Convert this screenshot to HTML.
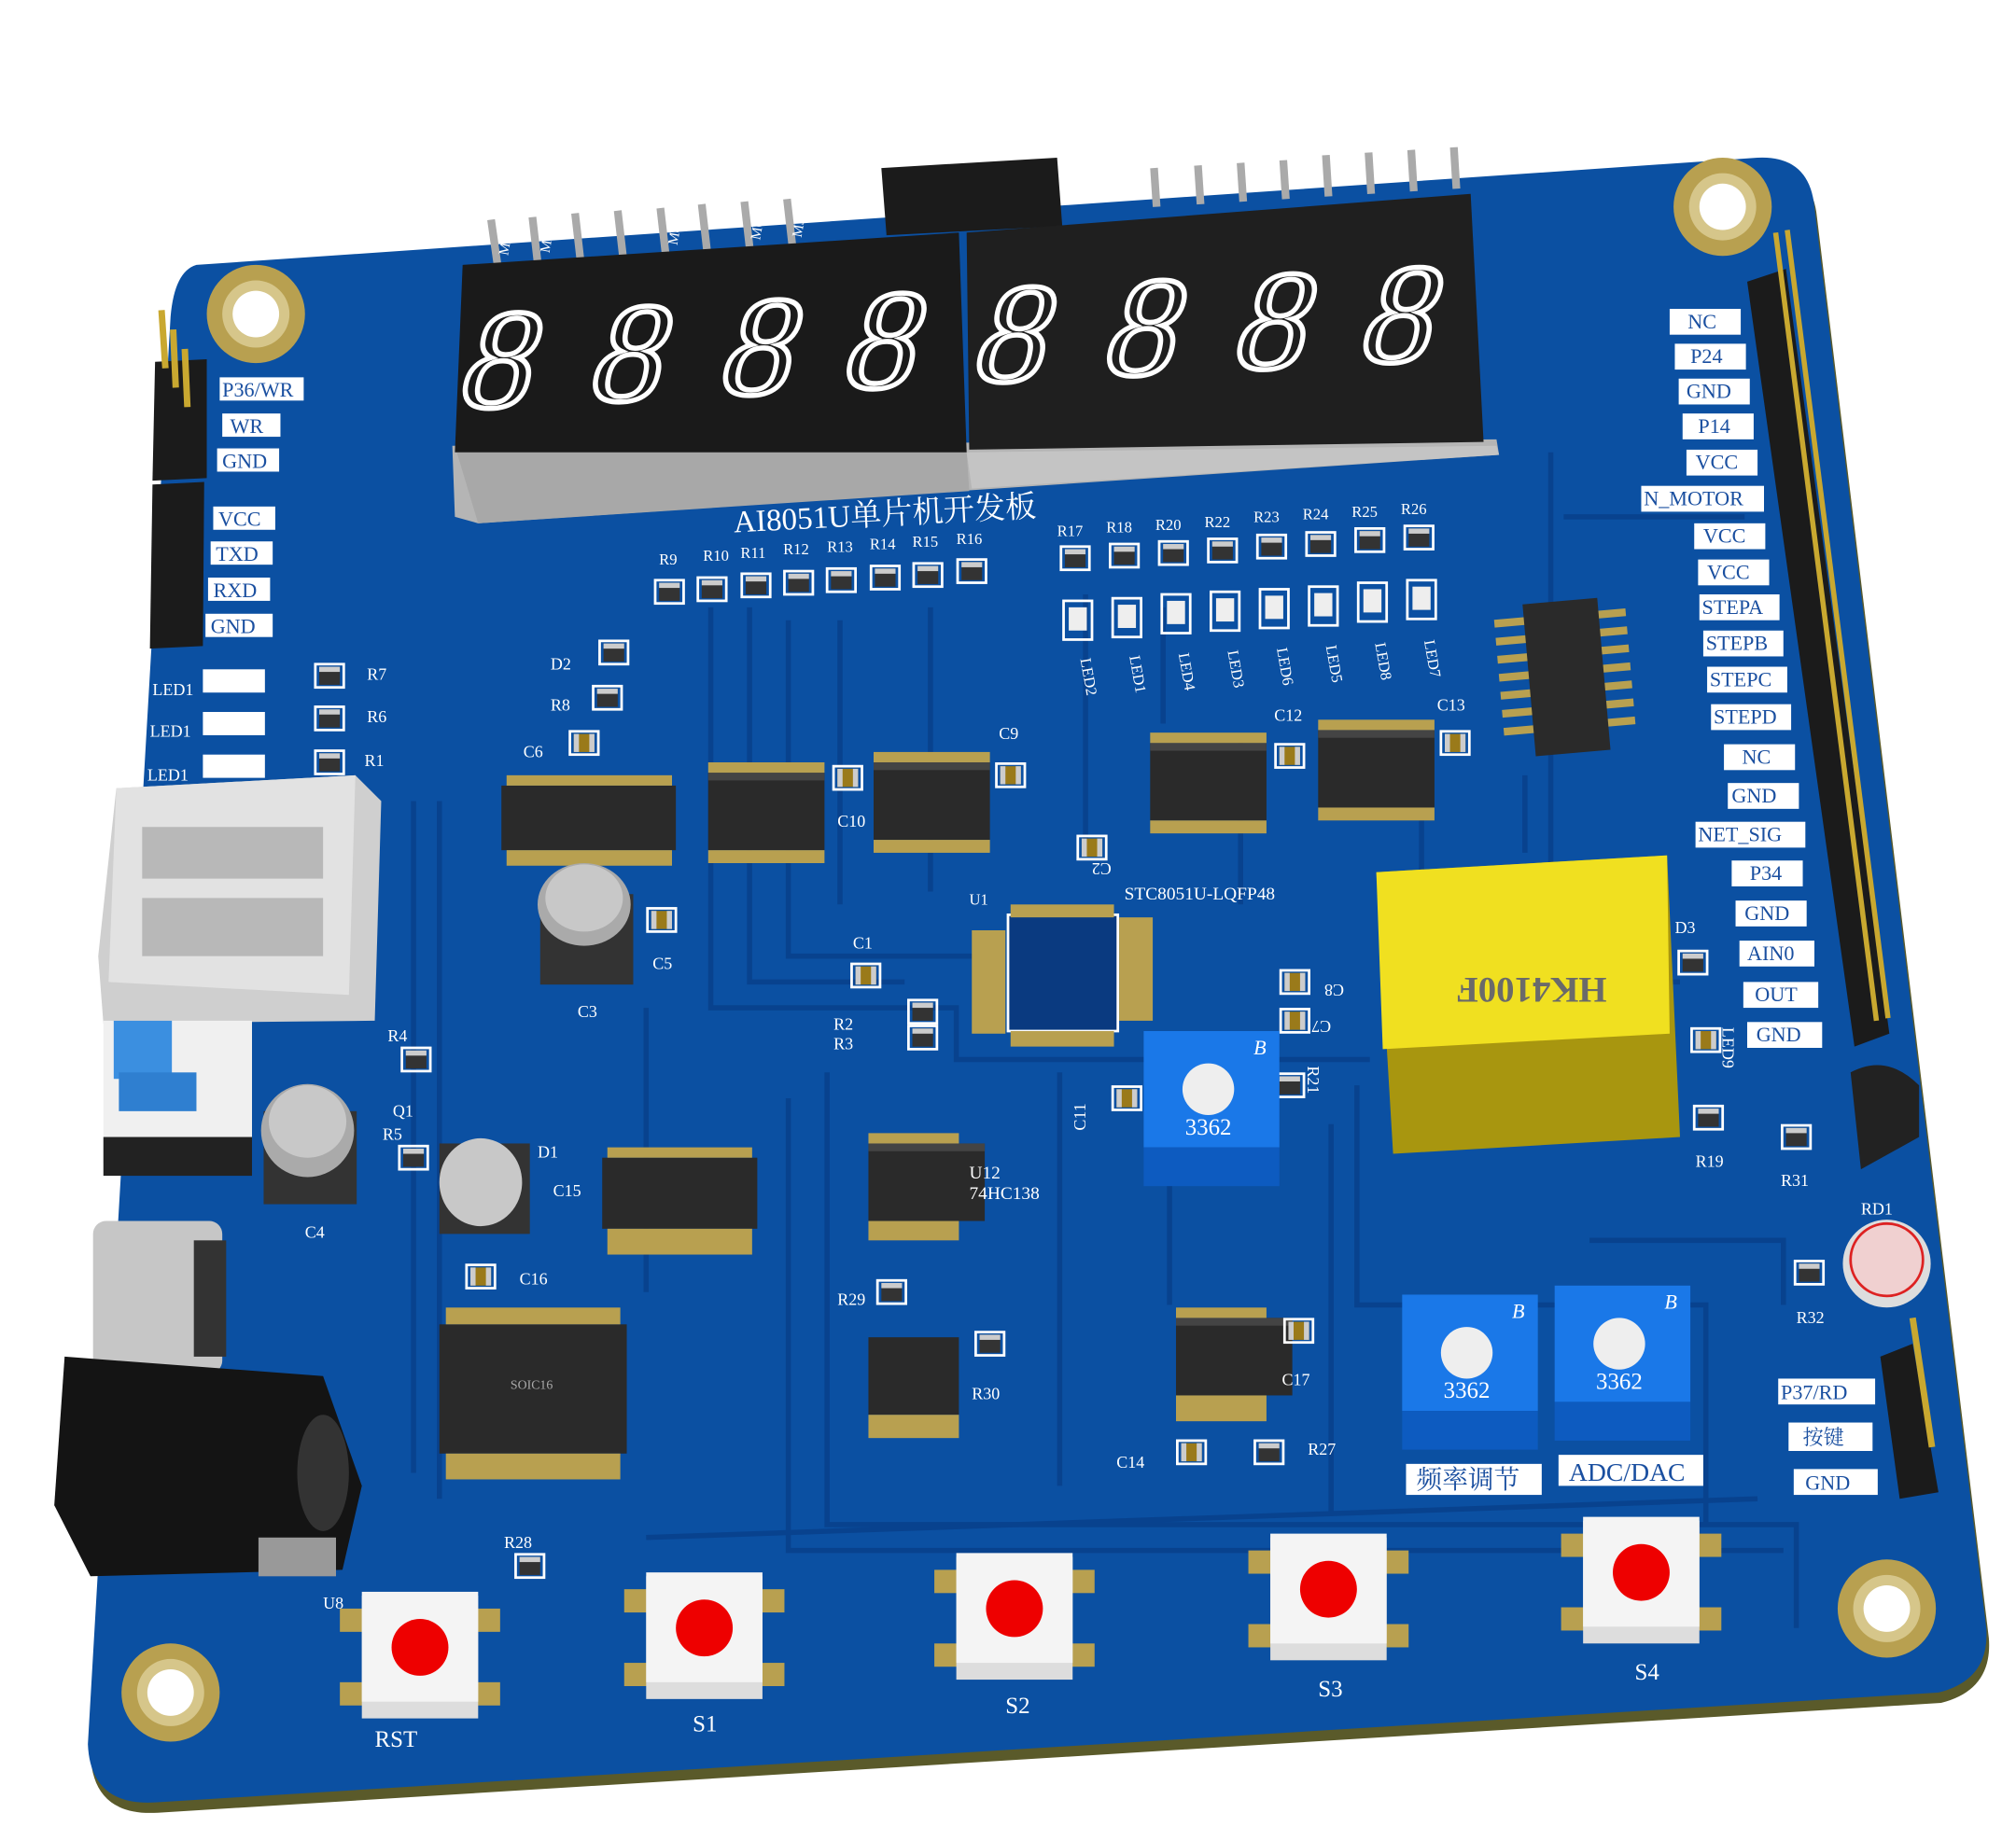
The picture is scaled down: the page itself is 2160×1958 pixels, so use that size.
<!DOCTYPE html>
<html><head><meta charset="utf-8"><style>
html,body{margin:0;padding:0;background:#fff;width:2160px;height:1958px;overflow:hidden}
svg{display:block}
text{font-family:"Liberation Serif","Noto Serif CJK SC",serif}
.lt{fill:#1a4fa0;font-size:16px}
</style></head><body>
<svg width="2160" height="1958" viewBox="0 0 1560 1414" xmlns="http://www.w3.org/2000/svg">
<defs>
<g id="res"><rect x="-11" y="-9" width="22" height="18" fill="none" stroke="#fff" stroke-width="2"/><rect x="-8" y="-7" width="16" height="14" fill="#333"/><rect x="-8" y="-7" width="16" height="4" fill="#ccc"/></g>
<g id="cap"><rect x="-11" y="-9" width="22" height="18" fill="none" stroke="#fff" stroke-width="2"/><rect x="-8" y="-7" width="16" height="14" fill="#9a7a1a"/><rect x="-8" y="-7" width="4" height="14" fill="#ccc"/><rect x="4" y="-7" width="4" height="14" fill="#ccc"/></g>
<g id="btn"><rect x="-62" y="-35" width="28" height="18" fill="#b8a050"/><rect x="34" y="-35" width="28" height="18" fill="#b8a050"/><rect x="-62" y="22" width="28" height="18" fill="#b8a050"/><rect x="34" y="22" width="28" height="18" fill="#b8a050"/><rect x="-45" y="-45" width="90" height="95" fill="#ddd"/><rect x="-45" y="-48" width="90" height="85" fill="#f4f4f4"/><circle cx="0" cy="-5" r="22" fill="#e00"/></g>
<g id="hole"><circle r="38" fill="#b8a050"/><circle r="26" fill="#d6c68a"/><circle r="18" fill="#fff"/></g>
<g id="chip"><rect x="0" y="0" width="90" height="60" fill="#2a2a2a"/><rect x="0" y="0" width="90" height="6" fill="#444"/></g>
<g id="pot"><rect x="0" y="0" width="105" height="90" fill="#1a78e8"/><rect x="0" y="90" width="105" height="30" fill="#0d5bc0"/><circle cx="50" cy="45" r="20" fill="#eee"/><text x="50" y="80" font-size="18" fill="#fff" text-anchor="middle" font-family="Liberation Sans,sans-serif">3362</text><text x="85" y="18" font-size="16" fill="#fff" font-style="italic" font-family="Liberation Sans,sans-serif">B</text></g>
</defs>
<rect width="1560" height="1414" fill="#fff"/>
<path d="M152,205 L1360,122 Q1400,120 1404,160 L1537,1260 Q1540,1300 1500,1310 L120,1395 Q70,1398 68,1350 L132,245 Q135,210 152,205Z" fill="#5a5a2a" transform="translate(2,8)"/>
<path d="M152,205 L1360,122 Q1400,120 1404,160 L1537,1260 Q1540,1300 1500,1310 L120,1395 Q70,1398 68,1350 L132,245 Q135,210 152,205Z" fill="#0b50a2"/>
<g stroke="#08428e" stroke-width="4" fill="none">
<path d="M550,470 L550,780 L740,780 L740,820 L1060,820"/><path d="M580,470 L580,760 L700,760"/><path d="M610,480 L610,740 L760,740"/><path d="M650,480 L650,700"/><path d="M720,470 L720,690"/><path d="M840,460 L840,650"/><path d="M900,470 L900,560"/><path d="M1200,350 L1200,760 L1300,760"/><path d="M1210,400 L1350,400"/><path d="M640,830 L640,1180 L1390,1180 L1390,1260"/><path d="M610,850 L610,1200 L1380,1200"/><path d="M500,780 L500,1000"/><path d="M320,620 L320,1140"/><path d="M340,620 L340,1160"/><path d="M820,830 L820,1150"/><path d="M905,900 L905,1010"/><path d="M1050,840 L1050,1010 L1320,1010 L1320,1180"/><path d="M1030,870 L1030,1170"/><path d="M500,1190 L1360,1160"/><path d="M1100,600 L1100,740"/><path d="M1180,600 L1180,660"/><path d="M1230,960 L1380,960 L1380,1010"/><path d="M960,570 L960,700"/></g>
<use href="#hole" x="198" y="243"/><use href="#hole" x="1333" y="160"/><use href="#hole" x="132" y="1310"/><use href="#hole" x="1460" y="1245"/>
<g stroke="#aaa" stroke-width="6"><line x1="380" y1="170" x2="385" y2="205"/><line x1="412" y1="168" x2="416" y2="203"/><line x1="445" y1="165" x2="449" y2="200"/><line x1="478" y1="163" x2="482" y2="198"/><line x1="511" y1="161" x2="515" y2="196"/><line x1="543" y1="158" x2="547" y2="193"/><line x1="576" y1="156" x2="580" y2="191"/><line x1="609" y1="154" x2="613" y2="189"/>
<line x1="893" y1="130" x2="895" y2="160"/><line x1="927" y1="128" x2="929" y2="158"/><line x1="960" y1="126" x2="962" y2="156"/><line x1="993" y1="124" x2="995" y2="154"/><line x1="1026" y1="120" x2="1028" y2="152"/><line x1="1059" y1="118" x2="1061" y2="150"/><line x1="1092" y1="116" x2="1094" y2="148"/><line x1="1125" y1="114" x2="1127" y2="146"/></g>
<g font-size="11" fill="#fff"><text x="393" y="198" transform="rotate(-80 393 198)">M5</text><text x="425" y="196" transform="rotate(-80 425 196)">M7</text><text x="524" y="190" transform="rotate(-80 524 190)">M8</text><text x="588" y="186" transform="rotate(-80 588 186)">M6</text><text x="620" y="184" transform="rotate(-80 620 184)">M3</text></g>
<polygon points="682,130 818,122 822,175 686,182" fill="#1b1b1b"/>
<polygon points="350,345 1158,340 1160,352 370,405 352,400" fill="#b5b5b5"/>
<polygon points="352,345 748,350 750,380 370,405" fill="#a8a8a8"/>
<polygon points="748,350 1158,345 1160,352 752,378" fill="#c4c4c4"/>
<polygon points="358,205 742,180 748,350 352,350" fill="#1a1a1a"/>
<polygon points="748,180 1138,150 1148,342 750,348" fill="#1f1f1f"/>
<g fill="none" stroke="#fff" stroke-width="4" font-family="Liberation Sans,sans-serif" font-size="110" font-style="italic">
<text x="360" y="315" transform="skewX(-8) translate(40,0)">8</text><text x="460" y="310" transform="skewX(-8) translate(40,0)">8</text><text x="560" y="305" transform="skewX(-8) translate(40,0)">8</text><text x="655" y="300" transform="skewX(-8) translate(40,0)">8</text><text x="755" y="295" transform="skewX(-8) translate(40,0)">8</text><text x="855" y="290" transform="skewX(-8) translate(40,0)">8</text><text x="955" y="285" transform="skewX(-8) translate(40,0)">8</text><text x="1052" y="280" transform="skewX(-8) translate(40,0)">8</text></g>
<text x="568" y="412" font-size="24" fill="#fff" transform="rotate(-3 568 412)">AI8051U单片机开发板</text>
<g font-size="12" fill="#fff"><text x="510" y="437">R9</text><text x="544" y="434">R10</text><text x="573" y="432">R11</text><text x="606" y="429">R12</text><text x="640" y="427">R13</text><text x="673" y="425">R14</text><text x="706" y="423">R15</text><text x="740" y="421">R16</text>
<text x="818" y="415">R17</text><text x="856" y="412">R18</text><text x="894" y="410">R20</text><text x="932" y="408">R22</text><text x="970" y="404">R23</text><text x="1008" y="402">R24</text><text x="1046" y="400">R25</text><text x="1084" y="398">R26</text></g>
<use href="#res" x="518" y="458"/><use href="#res" x="551" y="456"/><use href="#res" x="585" y="453"/><use href="#res" x="618" y="451"/><use href="#res" x="651" y="449"/><use href="#res" x="685" y="447"/><use href="#res" x="718" y="445"/><use href="#res" x="752" y="442"/>
<use href="#res" x="832" y="432"/><use href="#res" x="870" y="430"/><use href="#res" x="908" y="428"/><use href="#res" x="946" y="426"/><use href="#res" x="984" y="423"/><use href="#res" x="1022" y="421"/><use href="#res" x="1060" y="418"/><use href="#res" x="1098" y="416"/>
<g fill="none" stroke="#fff" stroke-width="2"><rect x="823" y="465" width="22" height="30"/><rect x="861" y="463" width="22" height="30"/><rect x="899" y="460" width="22" height="30"/><rect x="937" y="458" width="22" height="30"/><rect x="975" y="456" width="22" height="30"/><rect x="1013" y="454" width="22" height="30"/><rect x="1051" y="451" width="22" height="30"/><rect x="1089" y="449" width="22" height="30"/></g>
<g fill="#eee"><rect x="827" y="470" width="14" height="18"/><rect x="865" y="468" width="14" height="18"/><rect x="903" y="465" width="14" height="18"/><rect x="941" y="463" width="14" height="18"/><rect x="979" y="461" width="14" height="18"/><rect x="1017" y="459" width="14" height="18"/><rect x="1055" y="456" width="14" height="18"/><rect x="1093" y="454" width="14" height="18"/></g>
<g font-size="12" fill="#fff"><text x="836" y="510" transform="rotate(80 836 510)">LED2</text><text x="874" y="508" transform="rotate(80 874 508)">LED1</text><text x="912" y="506" transform="rotate(80 912 506)">LED4</text><text x="950" y="504" transform="rotate(80 950 504)">LED3</text><text x="988" y="502" transform="rotate(80 988 502)">LED6</text><text x="1026" y="500" transform="rotate(80 1026 500)">LED5</text><text x="1064" y="498" transform="rotate(80 1064 498)">LED8</text><text x="1102" y="496" transform="rotate(80 1102 496)">LED7</text></g>
<use href="#chip" x="548" y="598"/><use href="#chip" x="676" y="590"/><use href="#chip" x="890" y="575"/><use href="#chip" x="1020" y="565"/><use href="#chip" x="672" y="885"/><use href="#chip" x="910" y="1020"/>
<rect x="388" y="608" width="135" height="50" fill="#2a2a2a"/>
<rect x="466" y="896" width="120" height="55" fill="#2a2a2a"/>
<rect x="340" y="1025" width="145" height="100" fill="#2a2a2a"/><text x="395" y="1075" font-size="10" fill="#aaa">SOIC16</text>
<rect x="672" y="1035" width="70" height="60" fill="#2a2a2a"/>
<g fill="#b8a050"><rect x="548" y="590" width="90" height="8"/><rect x="548" y="658" width="90" height="10"/><rect x="676" y="582" width="90" height="8"/><rect x="676" y="650" width="90" height="10"/><rect x="890" y="567" width="90" height="8"/><rect x="890" y="635" width="90" height="10"/><rect x="1020" y="557" width="90" height="8"/><rect x="1020" y="625" width="90" height="10"/><rect x="392" y="600" width="128" height="8"/><rect x="392" y="658" width="128" height="12"/><rect x="470" y="888" width="112" height="8"/><rect x="470" y="951" width="112" height="20"/><rect x="672" y="877" width="70" height="8"/><rect x="672" y="945" width="70" height="15"/><rect x="345" y="1012" width="135" height="13"/><rect x="345" y="1125" width="135" height="20"/><rect x="910" y="1012" width="70" height="8"/><rect x="910" y="1080" width="70" height="20"/><rect x="672" y="1095" width="70" height="18"/></g>
<rect x="780" y="708" width="85" height="90" fill="#0a3a80" stroke="#fff" stroke-width="2"/>
<g fill="#b8a050"><rect x="782" y="700" width="80" height="10"/><rect x="782" y="798" width="80" height="12"/><rect x="752" y="720" width="26" height="80"/><rect x="866" y="710" width="26" height="80"/></g>
<text x="870" y="696" font-size="14" fill="#fff">STC8051U-LQFP48</text><text x="750" y="700" font-size="12" fill="#fff">U1</text>
<text x="750" y="912" font-size="14" fill="#fff">U12</text><text x="750" y="928" font-size="14" fill="#fff">74HC138</text>
<g transform="rotate(-5 1212 522)"><rect x="1158" y="470" width="108" height="104" fill="none"/>
<g stroke="#b8a050" stroke-width="6"><line x1="1160" y1="478" x2="1262" y2="478"/><line x1="1160" y1="492" x2="1262" y2="492"/><line x1="1160" y1="506" x2="1262" y2="506"/><line x1="1160" y1="520" x2="1262" y2="520"/><line x1="1160" y1="534" x2="1262" y2="534"/><line x1="1160" y1="548" x2="1262" y2="548"/><line x1="1160" y1="562" x2="1262" y2="562"/></g>
<rect x="1183" y="465" width="58" height="118" fill="#2a2a2a"/></g>
<use href="#cap" x="656" y="602"/><use href="#cap" x="782" y="600"/><use href="#cap" x="998" y="585"/><use href="#cap" x="1126" y="575"/><use href="#cap" x="845" y="656"/><use href="#cap" x="670" y="755"/><use href="#cap" x="512" y="712"/><use href="#cap" x="452" y="575"/><use href="#res" x="470" y="540"/><use href="#res" x="475" y="505"/>
<use href="#res" x="714" y="783"/><use href="#res" x="714" y="803"/><use href="#cap" x="1002" y="760"/><use href="#cap" x="1002" y="790"/><use href="#res" x="998" y="840"/><use href="#cap" x="872" y="850"/>
<use href="#res" x="255" y="523"/><use href="#res" x="255" y="556"/><use href="#res" x="255" y="590"/><use href="#res" x="322" y="820"/><use href="#res" x="320" y="896"/><use href="#res" x="690" y="1000"/><use href="#res" x="766" y="1040"/><use href="#res" x="410" y="1212"/><use href="#cap" x="1005" y="1030"/><use href="#res" x="982" y="1124"/><use href="#cap" x="922" y="1124"/><use href="#cap" x="372" y="988"/>
<use href="#res" x="1390" y="880"/><use href="#res" x="1400" y="985"/><use href="#res" x="1322" y="865"/><use href="#res" x="1310" y="745"/><use href="#cap" x="1320" y="805"/>
<g fill="#fff"><rect x="157" y="518" width="48" height="18"/><rect x="157" y="551" width="48" height="18"/><rect x="157" y="584" width="48" height="18"/></g>
<g font-size="13" fill="#fff"><text x="118" y="538">LED1</text><text x="116" y="570">LED1</text><text x="114" y="604">LED1</text><text x="284" y="526">R7</text><text x="284" y="559">R6</text><text x="282" y="593">R1</text><text x="426" y="518">D2</text><text x="426" y="550">R8</text><text x="405" y="586">C6</text><text x="648" y="640">C10</text><text x="773" y="572">C9</text><text x="986" y="558">C12</text><text x="1112" y="550">C13</text><text x="660" y="734">C1</text><text x="645" y="797">R2</text><text x="645" y="812">R3</text><text x="505" y="750">C5</text><text x="447" y="787">C3</text><text x="300" y="806">R4</text><text x="304" y="864">Q1</text><text x="296" y="882">R5</text><text x="416" y="896">D1</text><text x="428" y="926">C15</text><text x="402" y="994">C16</text><text x="236" y="958">C4</text><text x="648" y="1010">R29</text><text x="752" y="1083">R30</text><text x="992" y="1072">C17</text><text x="864" y="1136">C14</text><text x="1012" y="1126">R27</text><text x="390" y="1198">R28</text><text x="250" y="1245">U8</text><text x="1296" y="722">D3</text><text x="1312" y="903">R19</text><text x="1378" y="918">R31</text><text x="1390" y="1024">R32</text><text x="1440" y="940">RD1</text></g>
<g font-size="13" fill="#fff"><text x="1030" y="790" transform="rotate(180 1030 790)">C7</text><text x="1040" y="762" transform="rotate(180 1040 762)">C8</text><text x="860" y="668" transform="rotate(180 860 668)">C2</text><text x="1012" y="825" transform="rotate(90 1012 825)">R21</text><text x="840" y="875" transform="rotate(-90 840 875)">C11</text><text x="1333" y="795" transform="rotate(90 1333 795)">LED9</text></g>
<rect x="418" y="692" width="72" height="70" fill="#333"/><ellipse cx="452" cy="700" rx="36" ry="32" fill="#aaa"/><ellipse cx="452" cy="695" rx="30" ry="26" fill="#c8c8c8"/>
<rect x="204" y="860" width="72" height="72" fill="#333"/><ellipse cx="238" cy="875" rx="36" ry="36" fill="#aaa"/><ellipse cx="238" cy="868" rx="30" ry="28" fill="#c8c8c8"/>
<rect x="340" y="885" width="70" height="70" fill="#333"/><ellipse cx="372" cy="915" rx="32" ry="34" fill="#c8c8c8"/>
<polygon points="120,280 160,278 160,370 118,372" fill="#1b1b1b"/>
<polygon points="118,375 158,373 157,500 116,502" fill="#1b1b1b"/>
<g stroke="#c9a830" stroke-width="5"><line x1="125" y1="240" x2="128" y2="285"/><line x1="134" y1="255" x2="136" y2="300"/><line x1="143" y1="270" x2="145" y2="315"/></g>
<g font-size="16" fill="#1a4fa0"><rect x="170" y="292" width="65" height="18" fill="#fff"/><text x="172" y="307">P36/WR</text><rect x="172" y="320" width="45" height="18" fill="#fff"/><text x="178" y="335">WR</text><rect x="168" y="347" width="48" height="18" fill="#fff"/><text x="172" y="362">GND</text>
<rect x="165" y="392" width="48" height="18" fill="#fff"/><text x="169" y="407">VCC</text><rect x="163" y="419" width="48" height="18" fill="#fff"/><text x="167" y="434">TXD</text><rect x="161" y="447" width="48" height="18" fill="#fff"/><text x="165" y="462">RXD</text><rect x="159" y="475" width="52" height="18" fill="#fff"/><text x="163" y="490">GND</text></g>
<polygon points="90,610 275,600 295,620 290,790 80,792 76,740" fill="#cfcfcf"/><polygon points="90,610 275,600 270,770 84,760" fill="#e2e2e2"/><rect x="110" y="640" width="140" height="40" fill="#b8b8b8"/><rect x="110" y="695" width="140" height="45" fill="#b8b8b8"/>
<rect x="80" y="790" width="115" height="110" fill="#f0f0f0"/><rect x="80" y="880" width="115" height="30" fill="#222"/><rect x="88" y="790" width="45" height="45" fill="#3b8fe0"/><rect x="92" y="830" width="60" height="30" fill="#2f7fd0"/>
<rect x="72" y="945" width="100" height="118" fill="#c6c6c6" rx="10"/><rect x="150" y="960" width="25" height="90" fill="#333"/>
<polygon points="50,1050 250,1065 280,1150 265,1215 70,1220 42,1165" fill="#141414"/><ellipse cx="250" cy="1140" rx="20" ry="45" fill="#333"/><rect x="200" y="1190" width="60" height="30" fill="#999"/>
<polygon points="1065,675 1290,662 1300,880 1078,893" fill="#a8960f"/>
<polygon points="1065,675 1290,662 1292,800 1070,812" fill="#f0e020"/>
<text x="1185" y="775" text-anchor="middle" font-size="28" fill="#6a6a6a" font-family="Liberation Sans,sans-serif" font-weight="bold" transform="rotate(180 1185 766)">HK4100F</text>
<use href="#pot" x="885" y="798"/><use href="#pot" x="1085" y="1002"/><use href="#pot" x="1203" y="995"/>
<rect x="1088" y="1133" width="105" height="24" fill="#fff"/><text x="1096" y="1152" font-size="20" fill="#1a4fa0">频率调节</text>
<rect x="1206" y="1126" width="112" height="24" fill="#fff"/><text x="1214" y="1146" font-size="20" fill="#1a4fa0">ADC/DAC</text>
<path d="M1432,830 Q1460,815 1485,840 L1485,880 L1440,905 Z" fill="#222"/>
<circle cx="1460" cy="978" r="34" fill="#ddd"/><circle cx="1460" cy="975" r="28" fill="#f0d0d0" stroke="#d22" stroke-width="2"/>
<polygon points="1352,218 1382,208 1462,800 1435,810" fill="#1b1b1b"/>
<g stroke="#c9a830" stroke-width="4"><line x1="1374" y1="180" x2="1452" y2="790"/><line x1="1383" y1="178" x2="1461" y2="788"/></g>
<polygon points="1455,1050 1480,1040 1500,1155 1470,1160" fill="#1b1b1b"/>
<g stroke="#c9a830" stroke-width="5"><line x1="1480" y1="1020" x2="1495" y2="1120"/></g>
<g class="lt">
<rect x="1292" y="239" width="55" height="20" fill="#fff"/><text x="1306" y="254">NC</text>
<rect x="1296" y="266" width="55" height="20" fill="#fff"/><text x="1308" y="281">P24</text>
<rect x="1299" y="293" width="55" height="20" fill="#fff"/><text x="1305" y="308">GND</text>
<rect x="1302" y="320" width="55" height="20" fill="#fff"/><text x="1314" y="335">P14</text>
<rect x="1305" y="348" width="55" height="20" fill="#fff"/><text x="1312" y="363">VCC</text>
<rect x="1270" y="376" width="95" height="20" fill="#fff"/><text x="1272" y="391">N_MOTOR</text>
<rect x="1311" y="405" width="55" height="20" fill="#fff"/><text x="1318" y="420">VCC</text>
<rect x="1314" y="433" width="55" height="20" fill="#fff"/><text x="1321" y="448">VCC</text>
<rect x="1315" y="460" width="62" height="20" fill="#fff"/><text x="1317" y="475">STEPA</text>
<rect x="1318" y="488" width="62" height="20" fill="#fff"/><text x="1320" y="503">STEPB</text>
<rect x="1321" y="516" width="62" height="20" fill="#fff"/><text x="1323" y="531">STEPC</text>
<rect x="1324" y="545" width="62" height="20" fill="#fff"/><text x="1326" y="560">STEPD</text>
<rect x="1334" y="576" width="55" height="20" fill="#fff"/><text x="1348" y="591">NC</text>
<rect x="1337" y="606" width="55" height="20" fill="#fff"/><text x="1340" y="621">GND</text>
<rect x="1312" y="636" width="85" height="20" fill="#fff"/><text x="1314" y="651">NET_SIG</text>
<rect x="1340" y="666" width="55" height="20" fill="#fff"/><text x="1354" y="681">P34</text>
<rect x="1343" y="697" width="55" height="20" fill="#fff"/><text x="1350" y="712">GND</text>
<rect x="1346" y="728" width="58" height="20" fill="#fff"/><text x="1352" y="743">AIN0</text>
<rect x="1349" y="760" width="58" height="20" fill="#fff"/><text x="1358" y="775">OUT</text>
<rect x="1352" y="791" width="58" height="20" fill="#fff"/><text x="1359" y="806">GND</text>
<rect x="1376" y="1067" width="75" height="20" fill="#fff"/><text x="1378" y="1083">P37/RD</text>
<rect x="1384" y="1101" width="65" height="22" fill="#fff"/><text x="1395" y="1118">按键</text>
<rect x="1388" y="1137" width="65" height="20" fill="#fff"/><text x="1397" y="1153">GND</text>
</g>
<use href="#btn" x="325" y="1280"/><use href="#btn" x="545" y="1265"/><use href="#btn" x="785" y="1250"/><use href="#btn" x="1028" y="1235"/><use href="#btn" x="1270" y="1222"/>
<g font-size="18" fill="#fff"><text x="290" y="1352">RST</text><text x="536" y="1340">S1</text><text x="778" y="1326">S2</text><text x="1020" y="1313">S3</text><text x="1265" y="1300">S4</text></g>
</svg>
</body></html>
